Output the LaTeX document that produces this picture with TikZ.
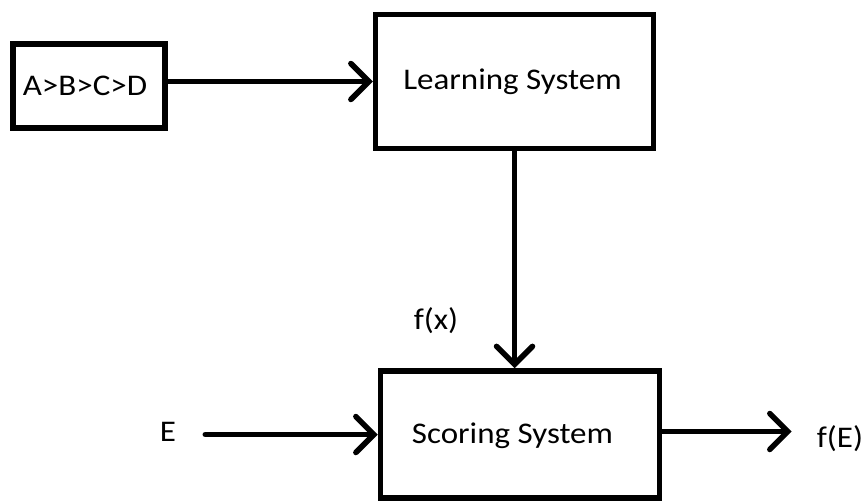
\documentclass[tikz,border=0pt]{standalone}
\usepackage{fontspec}
\setmainfont{Carlito}
\usetikzlibrary{arrows.meta}
\newcommand\widetext[1]{\scalebox{1.1}[1]{#1}}
\tikzset{
  sysbox/.style={draw, line width=5.5pt, inner sep=0pt, rectangle},
  lbl/.style={inner sep=0pt, font=\fontsize{30}{34}\selectfont},
  flow/.style={line width=5.5pt, line cap=round,
    -{Straight Barb[length=18pt,width=36pt,line cap=round]}},
}
\begin{document}
\begin{tikzpicture}[x=1pt, y=-1pt]
  \useasboundingbox (0,0) rectangle (864,501);
  % the three system boxes (sizes measured on the stroke centre lines)
  \node[sysbox, minimum width=152pt, minimum height=84pt] (ordbox) at (89,86) {};
  \node[sysbox, minimum width=278pt, minimum height=134pt] (learnbox) at (514.5,81.5) {};
  \node[sysbox, minimum width=279pt, minimum height=127pt] (scorebox) at (520,434.5) {};
  % texts
  \node[lbl] (ordtxt) at (85,86) {\widetext{A>B>C>D}};
  \node[lbl] (learn) at (512.5,82) {\widetext{Learning System}};
  \node[lbl] (score) at (512.5,436) {\widetext{Scoring System}};
  \node[lbl] (e) at (168,432) {\widetext{E}};
  \node[lbl] (fx) at (436,321) {\widetext{f(x)}};
  \node[lbl] (fe) at (840,439) {\widetext{f(E)}};
  % connectors
  \draw[flow] (ordbox.east |- learnbox.west) -- (learnbox.west);
  \draw[flow] (learnbox.south) -- (learnbox.south |- scorebox.north);
  \draw[flow] ([xshift=29pt]e.east |- scorebox.west) -- (scorebox.west);
  \draw[flow] ([yshift=3pt]scorebox.east) -- ([xshift=-25pt,yshift=3pt]fe.west |- scorebox.east);
\end{tikzpicture}
\end{document}
